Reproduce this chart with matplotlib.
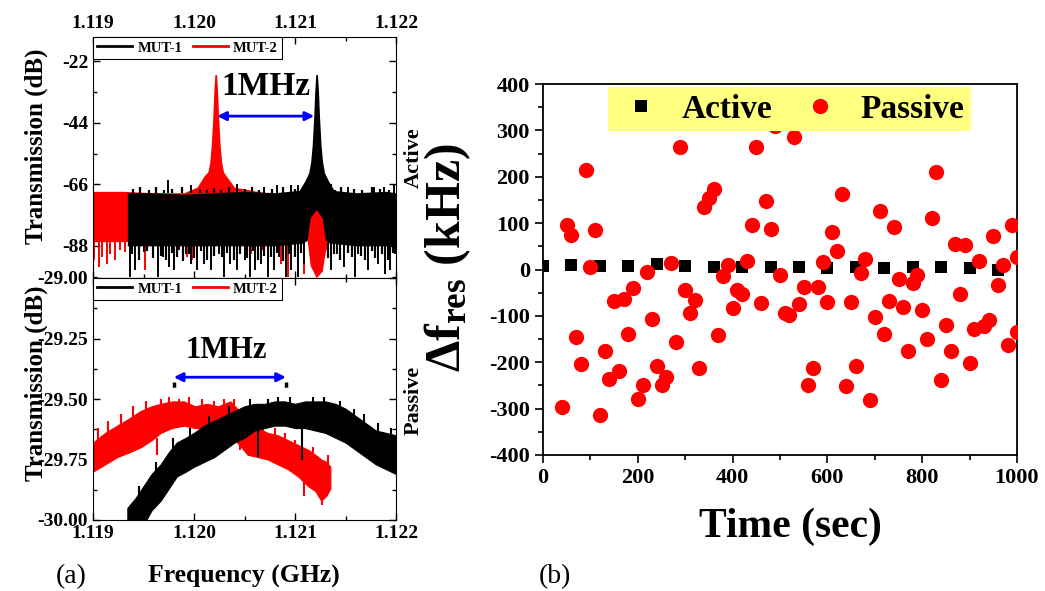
import numpy as np
import matplotlib
matplotlib.use('Agg')
import matplotlib.pyplot as plt
from matplotlib.ticker import MultipleLocator, FixedLocator, FormatStrFormatter
from matplotlib.lines import Line2D

plt.rcParams['font.family'] = ['Liberation Serif', 'DejaVu Serif']
plt.rcParams['font.weight'] = 'bold'
plt.rcParams['axes.labelweight'] = 'bold'
plt.rcParams['axes.unicode_minus'] = False
plt.rcParams['mathtext.fontset'] = 'custom'
plt.rcParams['mathtext.rm'] = 'Liberation Serif:bold'
plt.rcParams['mathtext.bf'] = 'Liberation Serif:bold'
plt.rcParams['mathtext.it'] = 'Liberation Serif:bold:italic'

# ---------------- (a) top: active spectra (dB) ----------------
# MUT-2 (red) noise band
rd_band_x = [1.1190, 1.1193, 1.1196, 1.1199, 1.12003, 1.1201, 1.12015, 1.12028, 1.12034, 1.1204,
             1.1207, 1.1210, 1.12112, 1.12115, 1.12121, 1.12127, 1.12130, 1.12134, 1.1216, 1.1220]
rd_band_hi = [-68.5, -68.5, -69, -69, -67, -63, -61, -61, -64, -67,
              -69, -69, -70, -74, -72, -74, -76, -70, -70, -70]
rd_band_lo = [-86.5, -86.5, -86, -86, -86, -84, -82, -82, -84, -86,
              -86, -86, -86, -95, -99.4, -97, -90, -86, -86, -86]
rd_dn_x = [1.119006, 1.119056, 1.119089, 1.119139, 1.119172, 1.119221, 1.119271, 1.119321,
           1.119519, 1.119933, 1.119983, 1.120562, 1.120678, 1.120860, 1.120927, 1.121091]
rd_dn_y = [-93.2, -95.6, -92.0, -94.4, -90.8, -93.2, -89.6, -90.2,
           -96.8, -92.0, -93.2, -90.8, -89.6, -94.4, -99.2, -98.0]
rd_pk_c = 1.120215
rd_pk_dx = [-0.00014, -0.0001, -0.00007, -0.00005, -0.000035, -0.00002, -0.00001, 0.0,
            0.00001, 0.00002, 0.000035, 0.00005, 0.00007, 0.0001, 0.00014]
rd_pk_db = [-68, -66, -62, -58, -52, -42, -33, -27, -33, -42, -52, -58, -62, -66, -68]

# MUT-1 (black) noise band
bk_band_x = [1.11934, 1.1196, 1.1199, 1.1202, 1.1205, 1.1208, 1.12108, 1.12112, 1.12115,
             1.12121, 1.12127, 1.12130, 1.12134, 1.1216, 1.1219, 1.1220]
bk_band_hi = [-69, -69, -69.5, -69, -68.5, -69, -68, -67, -65, -62, -65, -67, -68, -69, -68.5, -69]
bk_band_lo = [-88, -88, -88, -88, -88, -88, -87, -86, -78, -75, -78, -86, -87, -88, -88, -88]
bk_dn_x = [1.11937, 1.11942, 1.11950, 1.11964, 1.11969, 1.11975, 1.11980, 1.11985, 1.11992, 1.11997,
           1.12003, 1.12010, 1.12017, 1.12025, 1.12030, 1.12036, 1.12043, 1.12050, 1.12055, 1.12060,
           1.12066, 1.12073, 1.12079, 1.12084, 1.12091, 1.12096, 1.12103, 1.12109, 1.12136, 1.12142,
           1.12149, 1.12159, 1.12162, 1.12172, 1.12182, 1.12189, 1.12194, 1.12199]
bk_dn_y = [-99.2, -96.8, -90.2, -99.2, -92.0, -95.6, -96.8, -89.6, -90.8, -94.4,
           -96.8, -94.4, -96.8, -90.8, -99.2, -94.4, -96.8, -93.2, -99.2, -96.8,
           -94.4, -99.2, -96.8, -92.0, -99.2, -96.8, -99.2, -94.4, -96.8, -90.8,
           -95.6, -99.2, -90.8, -96.8, -94.4, -98.0, -96.8, -90.8]
bk_lo_x = [1.11939, 1.11946, 1.11953, 1.11959, 1.11967, 1.11972, 1.11978, 1.11983, 1.11989, 1.11995,
           1.12000, 1.12007, 1.12013, 1.12020, 1.12028, 1.12033, 1.12040, 1.12046, 1.12052, 1.12058,
           1.12063, 1.12069, 1.12076, 1.12082, 1.12088, 1.12094, 1.12100, 1.12106, 1.12133, 1.12139,
           1.12145, 1.12152, 1.12156, 1.12165, 1.12169, 1.12176, 1.12179, 1.12186, 1.12192, 1.12197]
bk_lo_y = [-91, -93, -90, -92.5, -91.5, -93, -90.5, -92, -93.5, -91,
           -92.5, -90, -93, -91.5, -92, -90.5, -93, -91, -92.5, -90,
           -93, -91.5, -92, -90.5, -93.5, -91, -92, -90.5, -92.5, -91,
           -93, -90.5, -92, -91.5, -93, -90, -92.5, -91, -93, -90.5]
bk_up_x = [1.119745, 1.119966, 1.12043, 1.120695, 1.120826, 1.120959, 1.121026, 1.121356,
           1.121522, 1.121787, 1.121885, 1.121985]
bk_up_y = [-64.6, -66.4, -65.8, -67, -66.4, -66.4, -66.4, -65.8, -67, -67, -67, -66.4]
bk_edge_x = [1.11940, 1.11947, 1.11955, 1.11962, 1.11970, 1.11978, 1.11988, 1.12006, 1.12013,
             1.12020, 1.12027, 1.12035, 1.12050, 1.12057, 1.12064, 1.12077, 1.12088, 1.12100,
             1.12140, 1.12146, 1.12158, 1.12166, 1.12176, 1.12184, 1.12193]
bk_edge_y = [-67.5, -66.8, -68, -67, -68.2, -67.5, -66.9, -67.5, -68, -67.2, -68, -67, -67.8,
             -67, -68.2, -67.5, -67, -67.8, -68, -66.8, -67.6, -68.1, -66.9, -67.8, -68]
bk_pk_c = 1.121214
bk_pk_dx = [-0.00016, -0.00011, -0.00007, -0.00005, -0.000035, -0.00002, -0.00001, 0.0,
            0.00001, 0.00002, 0.000035, 0.00005, 0.00007, 0.00011, 0.00016]
bk_pk_db = [-68, -65, -62, -58, -52, -42, -33, -27, -33, -42, -52, -58, -62, -65, -68]

# ---------------- (a) bottom: passive spectra (dB) ----------------
rd2_x = [1.11900, 1.11912, 1.11924, 1.11936, 1.11947, 1.11958, 1.11967, 1.11978, 1.11990, 1.12001,
         1.12013, 1.12024, 1.12036, 1.12045, 1.12053, 1.12063, 1.12073, 1.12083, 1.12093, 1.12103,
         1.12113, 1.12120, 1.12126, 1.12131, 1.12135]
rd2_hi = [-29.68, -29.64, -29.61, -29.58, -29.55, -29.53, -29.52, -29.51, -29.51, -29.53,
          -29.52, -29.53, -29.51, -29.55, -29.59, -29.62, -29.64, -29.65, -29.67, -29.69,
          -29.71, -29.73, -29.75, -29.76, -29.78]
rd2_lo = [-29.80, -29.77, -29.74, -29.72, -29.70, -29.67, -29.64, -29.62, -29.61, -29.62,
          -29.62, -29.63, -29.65, -29.69, -29.73, -29.74, -29.75, -29.77, -29.79, -29.82,
          -29.86, -29.88, -29.92, -29.90, -29.87]
rd2_sp_x = [1.11905, 1.11915, 1.11928, 1.11940, 1.11952, 1.119636, 1.11967, 1.11975, 1.11985,
            1.11995, 1.12008, 1.12020, 1.1203, 1.12040, 1.12046, 1.12058, 1.12068, 1.12080,
            1.12090, 1.12100, 1.12109, 1.12118, 1.12127, 1.12133]
rd2_sp_y0 = [-29.70, -29.67, -29.63, -29.60, -29.58, -29.66, -29.55, -29.54, -29.54,
             -29.55, -29.56, -29.56, -29.55, -29.55, -29.60, -29.64, -29.66, -29.68,
             -29.70, -29.73, -29.80, -29.78, -29.85, -29.80]
rd2_sp_y1 = [-29.62, -29.59, -29.56, -29.53, -29.51, -29.73, -29.50, -29.49, -29.50,
             -29.49, -29.50, -29.51, -29.50, -29.50, -29.71, -29.58, -29.60, -29.62,
             -29.64, -29.67, -29.90, -29.70, -29.94, -29.73]

bk2_x = [1.11934, 1.11942, 1.11950, 1.11958, 1.11967, 1.11975, 1.11983, 1.11992, 1.12000, 1.12010,
         1.12020, 1.12030, 1.12040, 1.12050, 1.12060, 1.12070, 1.12080, 1.12090, 1.12100, 1.12110,
         1.12120, 1.12130, 1.12140, 1.12150, 1.12160, 1.12170, 1.12180, 1.12190, 1.12200]
bk2_hi = [-29.95, -29.91, -29.86, -29.81, -29.77, -29.72, -29.68, -29.66, -29.64, -29.61,
          -29.59, -29.57, -29.55, -29.53, -29.52, -29.52, -29.51, -29.51, -29.52, -29.51,
          -29.51, -29.51, -29.52, -29.54, -29.57, -29.60, -29.63, -29.64, -29.65]
bk2_lo = [-30.02, -30.02, -30.02, -29.96, -29.92, -29.87, -29.82, -29.80, -29.78, -29.76,
          -29.74, -29.71, -29.68, -29.66, -29.63, -29.62, -29.61, -29.61, -29.62, -29.62,
          -29.63, -29.64, -29.66, -29.68, -29.71, -29.74, -29.77, -29.79, -29.81]
bk2_sp_x = [1.11946, 1.11962, 1.11979, 1.11996, 1.12015, 1.12035, 1.12055, 1.12063, 1.12073,
            1.12083, 1.12095, 1.12107, 1.12118, 1.12129, 1.12145, 1.12158, 1.12168, 1.12182,
            1.12195]
bk2_sp_y0 = [-29.93, -29.83, -29.74, -29.70, -29.64, -29.61, -29.57, -29.62, -29.56,
             -29.56, -29.56, -29.60, -29.56, -29.56, -29.58, -29.62, -29.62, -29.68,
             -29.70]
bk2_sp_y1 = [-29.86, -29.76, -29.66, -29.62, -29.57, -29.53, -29.50, -29.74, -29.50,
             -29.49, -29.49, -29.75, -29.49, -29.49, -29.51, -29.54, -29.56, -29.60,
             -29.62]

# ---------------- (b) frequency drift ----------------
active_t = [0, 60, 120, 180, 240, 300, 360, 420, 480, 540, 600, 660, 720, 780, 840, 900, 960]
active_df = [8, 9, 7, 8, 11, 8, 5, 6, 5, 6, 4, 5, 4, 5, 5, 4, 0]

passive_t = [40, 50, 60, 70, 80, 90, 100, 110, 120, 130, 140, 150, 160, 170, 180, 190, 200, 210,
             220, 230, 240, 250, 260, 270, 280, 290, 300, 310, 320, 330, 340, 350, 360, 370, 380,
             390, 400, 410, 420, 430, 440, 450, 460, 470, 480, 490, 500, 510, 520, 530, 540, 550,
             560, 570, 580, 590, 600, 610, 620, 630, 640, 650, 660, 670, 680, 690, 700, 710, 720,
             730, 740, 750, 760, 770, 780, 790, 800, 810, 820, 830, 840, 850, 860, 870, 880, 890,
             900, 910, 920, 930, 940, 950, 960, 970, 980, 990, 1000, 1000]
passive_df = [-296, 95, 75, -145, -204, 215, 5, 86, -314, -175, -236, -67, -219, -63, -140, -40,
              -280, -249, -5, -107, -209, -250, -231, 15, -157, 265, -44, -94, -65, -212, 135, 154,
              173, -141, -14, 9, -84, -45, -53, 18, 95, 265, -73, 147, 88, 310, -11, -94, -98, 285,
              -75, -37, -250, -212, -37, 16, -71, 80, 40, 163, -252, -70, -209, -8, 23, -282, -102,
              127, -140, -68, 92, -20, -81, -176, -30, -12, -87, -149, 110, 210, -239, -119, -176,
              55, -52, 52, -202, -128, 18, -121, -108, 73, -34, 10, -163, 95, -134, 28]

W, H = 1045, 591
fig = plt.figure(figsize=(W / 100, H / 100), dpi=100)


def box(l, t, r, b):
    return [l / W, 1 - b / H, (r - l) / W, (b - t) / H]


ax1 = fig.add_axes(box(93, 37, 396, 278))
ax2 = fig.add_axes(box(93, 278, 396, 520))
ax3 = fig.add_axes(box(543, 84, 1017, 455))

# ---- top left ----
ax1.fill_between(rd_band_x, rd_band_lo, rd_band_hi, color='red', lw=0, zorder=2)
ax1.vlines(rd_dn_x, -86, rd_dn_y, color='red', lw=1.4, zorder=2)
rx = [rd_pk_c + d for d in rd_pk_dx]
ax1.fill_between(rx, rd_pk_db, -69, color='red', lw=1.3, edgecolor='red', zorder=2)

ax1.fill_between(bk_band_x, bk_band_lo, bk_band_hi, color='black', lw=0, zorder=3)
ax1.vlines(bk_dn_x, -87, bk_dn_y, color='black', lw=1.4, zorder=3)
ax1.vlines(bk_lo_x, -87, bk_lo_y, color='black', lw=1.6, zorder=3)
ax1.vlines(bk_up_x, -69, bk_up_y, color='black', lw=1.4, zorder=3)
ax1.vlines(bk_edge_x, -69, bk_edge_y, color='black', lw=1.6, zorder=3)
bx = [bk_pk_c + d for d in bk_pk_dx]
ax1.fill_between(bx, bk_pk_db, -69, color='black', lw=1.3, edgecolor='black', zorder=3)

ax1.annotate('', xy=(1.12023, -41.6), xytext=(1.12119, -41.6),
             arrowprops=dict(arrowstyle='<|-|>', color='blue', lw=2, mutation_scale=13,
                             shrinkA=0, shrinkB=0), zorder=5)
ax1.text(1.12071, -31, '1MHz', fontsize=24, ha='center', va='center', zorder=5)

ax1.set_xlim(1.119, 1.122)
ax1.set_ylim(-99.5, -13.3)
ax1.set_yticks([-88, -66, -44, -22])
ax1.yaxis.set_minor_locator(FixedLocator([-99, -77, -55, -33]))
ax1.xaxis.set_major_locator(MultipleLocator(0.001))
ax1.xaxis.set_minor_locator(MultipleLocator(0.0005))
ax1.xaxis.set_major_formatter(FormatStrFormatter('%.3f'))
ax1.tick_params(which='both', direction='in', top=True, right=True,
                labeltop=True, labelbottom=False, labelsize=14, width=1)
ax1.tick_params(which='major', length=5)
ax1.tick_params(which='minor', length=3)
ax1.set_ylabel('Transmission (dB)', fontsize=18)
ax1.yaxis.set_label_coords(-0.15, 0.548)

# ---- bottom left ----
ax2.fill_between(rd2_x, rd2_lo, rd2_hi, color='red', lw=0.8, edgecolor='red', zorder=2)
ax2.vlines(rd2_sp_x, rd2_sp_y0, rd2_sp_y1, color='red', lw=1.5, zorder=2)
ax2.fill_between(bk2_x, bk2_lo, bk2_hi, color='black', lw=0.8, edgecolor='black', zorder=3)
ax2.vlines(bk2_sp_x, bk2_sp_y0, bk2_sp_y1, color='black', lw=1.5, zorder=3)

ax2.vlines([1.1198, 1.12091], -29.43, -29.50, colors='black', linestyles=(0, (1.5, 3.5)),
           lw=2.5, zorder=4)
ax2.annotate('', xy=(1.1198, -29.41), xytext=(1.12091, -29.41),
             arrowprops=dict(arrowstyle='<|-|>', color='blue', lw=2, mutation_scale=13,
                             shrinkA=0, shrinkB=0), zorder=5)
ax2.text(1.12032, -29.30, '1MHz', fontsize=22, ha='center', va='center', zorder=5)

ax2.set_xlim(1.119, 1.122)
ax2.set_ylim(-30.0, -29.0)
ax2.yaxis.set_major_locator(MultipleLocator(0.25))
ax2.yaxis.set_minor_locator(MultipleLocator(0.125))
ax2.yaxis.set_major_formatter(FormatStrFormatter('%.2f'))
ax2.xaxis.set_major_locator(MultipleLocator(0.001))
ax2.xaxis.set_minor_locator(MultipleLocator(0.0005))
ax2.xaxis.set_major_formatter(FormatStrFormatter('%.3f'))
ax2.tick_params(which='both', direction='in', top=True, right=True, labelsize=14, width=1)
ax2.tick_params(which='major', length=5)
ax2.tick_params(which='minor', length=3)
ax2.set_ylabel('Transmission (dB)', fontsize=18)
ax2.yaxis.set_label_coords(-0.15, 0.565)

for ax in (ax1, ax2):
    leg = ax.legend(handles=[Line2D([], [], color='black', lw=2),
                             Line2D([], [], color='red', lw=2)],
                    labels=['MUT-1', 'MUT-2'], loc='upper left', ncol=2, fontsize=10.5,
                    frameon=True, fancybox=False, edgecolor='black', framealpha=1,
                    borderaxespad=0, borderpad=0.3, handlelength=2.4, handletextpad=0.35,
                    columnspacing=0.7)
    leg.get_frame().set_linewidth(0.8)
    leg.set_zorder(6)

fig.text(243.5 / W, 1 - 576 / H, 'Frequency (GHz)', fontsize=18.5, ha='center', va='center')
fig.text(71 / W, 1 - 577 / H, '(a)', fontsize=20, weight='normal', ha='center', va='center')

# ---- right panel ----
ax3.plot(active_t, active_df, 's', color='black', ms=8.8, mew=0, label='Active', zorder=3)
ax3.plot(passive_t, passive_df, 'o', color='red', ms=11, mew=0, label='Passive', zorder=4)
ax3.set_xlim(0, 1000)
ax3.set_ylim(-400, 400)
ax3.xaxis.set_major_locator(MultipleLocator(200))
ax3.xaxis.set_minor_locator(MultipleLocator(100))
ax3.yaxis.set_major_locator(MultipleLocator(100))
ax3.yaxis.set_minor_locator(MultipleLocator(50))
ax3.tick_params(which='both', direction='out', top=False, right=False, labelsize=16, width=1.2)
ax3.tick_params(which='major', length=6)
ax3.tick_params(which='minor', length=3.5)
for s in ax3.spines.values():
    s.set_linewidth(1.3)

leg3 = ax3.legend(loc='upper left', bbox_to_anchor=(0.137, 0.992), ncol=2, fontsize=24,
                  frameon=True, facecolor='#FFFF80', edgecolor='none', framealpha=1,
                  fancybox=False, borderpad=0.2, handlelength=1.6, handletextpad=0.4,
                  columnspacing=0.65, borderaxespad=0, numpoints=1)
leg3.set_zorder(10)

ax3.set_ylabel(r'$\mathbf{\Delta f_{res}}$ (kHz)', fontsize=36)
ax3.yaxis.set_label_coords(-0.148, 0.531)
fig.text(790 / W, 1 - 527 / H, 'Time (sec)', fontsize=30, ha='center', va='center')
fig.text(414 / W, 1 - 158 / H, 'Active', fontsize=16, rotation=90, ha='center', va='center')
fig.text(414 / W, 1 - 400 / H, 'Passive', fontsize=16, rotation=90, ha='center', va='center')
fig.text(555 / W, 1 - 577 / H, '(b)', fontsize=20, weight='normal', ha='center', va='center')

fig.savefig('out.png', dpi=100)
